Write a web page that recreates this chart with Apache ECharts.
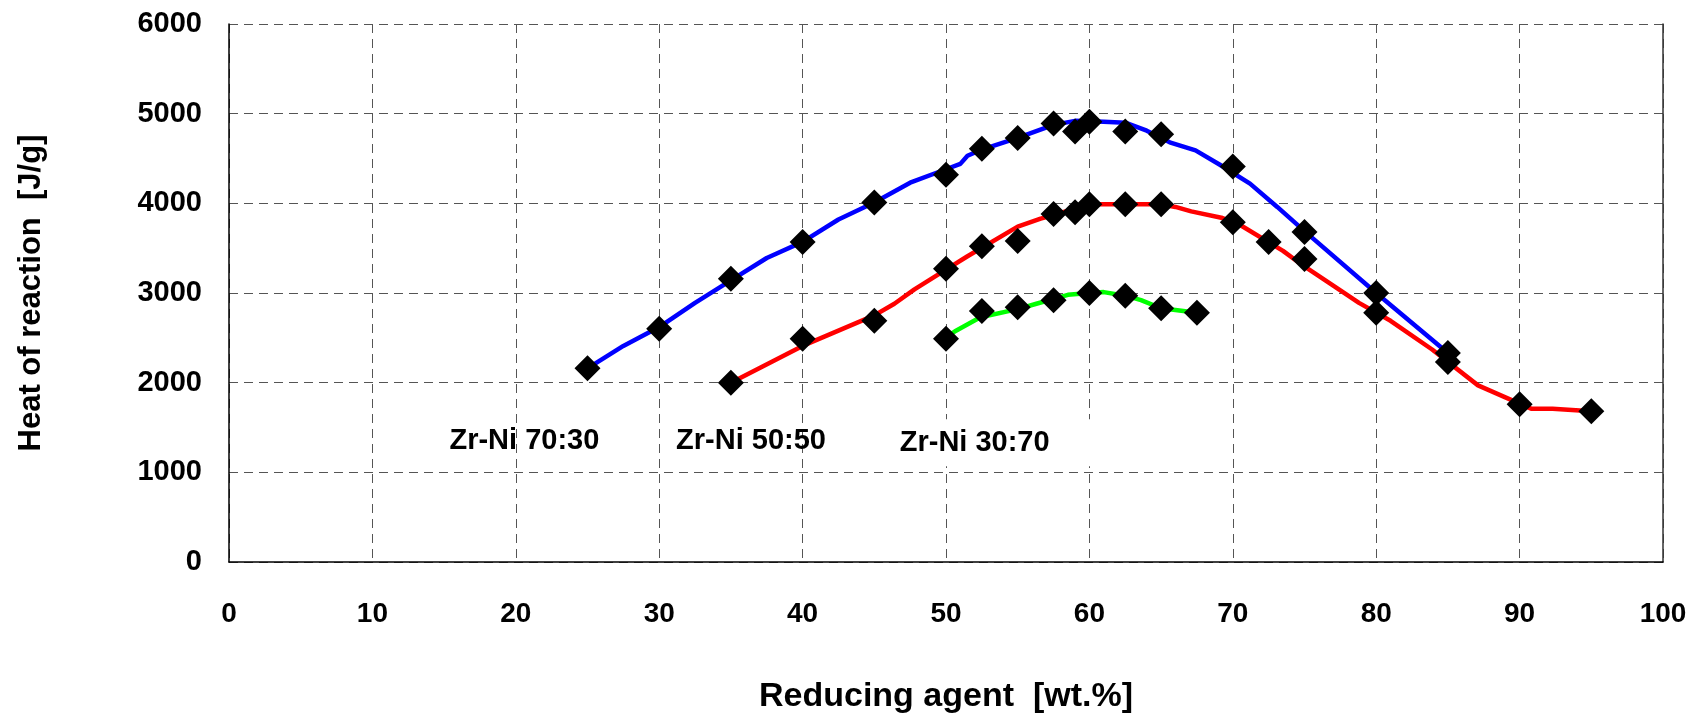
<!DOCTYPE html>
<html>
<head>
<meta charset="utf-8">
<title>Heat of reaction</title>
<script src="https://cdn.jsdelivr.net/npm/echarts@6/dist/echarts.min.js"></script>
<style>
  html, body { margin: 0; padding: 0; background: #fff; }
  #chart { width: 1707px; height: 719px; }
</style>
</head>
<body>
<div id="chart"></div>
<script>
// measured points (black diamonds)
var blueX = [25, 30, 35, 40, 45, 50, 52.5, 55, 57.5, 59, 60, 62.5, 65, 70, 75, 80, 85];
var blueY = [2160, 2600, 3160, 3570, 4010, 4320, 4610, 4730, 4890, 4800, 4910, 4800, 4770, 4410, 3680, 3000, 2330];
var redX = [35, 40, 45, 50, 52.5, 55, 57.5, 59, 60, 62.5, 65, 70, 72.5, 75, 80, 85, 90, 95];
var redY = [2000, 2490, 2690, 3270, 3520, 3580, 3880, 3900, 3990, 3990, 3990, 3790, 3570, 3380, 2780, 2230, 1760, 1680];
var greenX = [50, 52.5, 55, 57.5, 60, 62.5, 65, 67.5];
var greenY = [2490, 2800, 2840, 2920, 3000, 2970, 2830, 2780];

// curves as drawn in the original
var blueLineX = [25, 27.5, 30, 32.5, 35, 37.5, 40, 42.5, 45, 47.5, 50, 51, 51.5, 52.5, 55, 57.5, 59, 61, 62.5, 64, 65.6, 67.4, 69.1, 71.2, 73.1, 75, 80, 85];
var blueLineY = [2160, 2410, 2620, 2890, 3140, 3390, 3570, 3820, 4010, 4230, 4380, 4440, 4530, 4600, 4730, 4875, 4920, 4910, 4900, 4810, 4680, 4590, 4430, 4220, 3960, 3690, 3000, 2330];
var redLineX = [35, 40, 45, 46.4, 47.8, 50, 51.5, 55, 56.6, 57.5, 59, 60, 62.5, 65, 66, 67.1, 69.2, 70.6, 73.5, 74.6, 77.5, 78.8, 81, 83.9, 87.1, 90.8, 92.3, 95];
var redLineY = [2000, 2410, 2750, 2880, 3040, 3260, 3410, 3740, 3830, 3870, 3940, 3990, 3990, 3990, 3960, 3910, 3840, 3750, 3470, 3340, 3030, 2890, 2690, 2370, 1970, 1710, 1710, 1680];
var greenLineX = [50, 50.6, 52.4, 55, 56.3, 58.5, 60, 61, 62.5, 63.6, 65, 66, 67.5];
var greenLineY = [2510, 2570, 2730, 2820, 2880, 2980, 3000, 3010, 2970, 2920, 2830, 2810, 2780];

// series labels inside the plot
var labelText = ['Zr-Ni 70:30', 'Zr-Ni 50:50', 'Zr-Ni 30:70'];
var labelX = [20.6, 36.4, 52.0];
var labelY = [1350, 1350, 1330];

var xTicks = [0, 10, 20, 30, 40, 50, 60, 70, 80, 90, 100];
var yTicks = [0, 1000, 2000, 3000, 4000, 5000, 6000];

function pairs(xs, ys) {
  return xs.map(function (x, i) { return [x, ys[i]]; });
}

var font = "'Liberation Sans', Arial, sans-serif";
var gridLine = { show: true, lineStyle: { color: '#555', width: 1, type: [9, 6] } };

var chart = echarts.init(document.getElementById('chart'));

function lineSeries(xs, ys, color) {
  return {
    type: 'line',
    data: pairs(xs, ys),
    symbol: 'none',
    smooth: false,
    silent: true,
    z: 2,
    lineStyle: { color: color, width: 4.5 }
  };
}

function markSeries(xs, ys) {
  return {
    type: 'scatter',
    data: pairs(xs, ys),
    symbol: 'diamond',
    symbolSize: 26,
    silent: true,
    z: 3,
    itemStyle: { color: '#000', opacity: 1 }
  };
}

var option = {
  backgroundColor: '#fff',
  animation: false,
  grid: { left: 229, right: 44, top: 24, bottom: 153 },
  xAxis: {
    type: 'value',
    min: xTicks[0],
    max: xTicks[xTicks.length - 1],
    interval: 10,
    name: 'Reducing agent  [wt.%]',
    nameLocation: 'middle',
    nameGap: 118,
    nameTextStyle: { fontFamily: font, fontWeight: 'bold', fontSize: 34, color: '#000' },
    axisLine: { show: true, onZero: false, lineStyle: { color: '#000', width: 1.5 } },
    axisTick: { show: false },
    axisLabel: { margin: 38, fontFamily: font, fontWeight: 'bold', fontSize: 28, color: '#000' },
    splitLine: gridLine
  },
  yAxis: [{
    type: 'value',
    min: yTicks[0],
    max: yTicks[yTicks.length - 1],
    interval: 1000,
    name: 'Heat of reaction  [J/g]',
    nameLocation: 'middle',
    nameGap: 182,
    nameTextStyle: { fontFamily: font, fontWeight: 'bold', fontSize: 31, color: '#000' },
    axisLine: { show: true, onZero: false, lineStyle: { color: '#000', width: 1.5 } },
    axisTick: { show: false },
    axisLabel: {
      margin: 27, fontFamily: font, fontWeight: 'bold', fontSize: 29, color: '#000',
      formatter: function (v) { return String(v); }
    },
    splitLine: gridLine
  }, {
    // right frame edge
    type: 'value',
    position: 'right',
    min: yTicks[0],
    max: yTicks[yTicks.length - 1],
    axisLine: { show: true, onZero: false, lineStyle: { color: '#333', width: 1.5 } },
    axisTick: { show: false },
    axisLabel: { show: false },
    splitLine: { show: false }
  }],
  series: [
    lineSeries(blueLineX, blueLineY, '#0000ff'),
    lineSeries(redLineX, redLineY, '#ff0000'),
    lineSeries(greenLineX, greenLineY, '#00ff00'),
    markSeries(blueX, blueY),
    markSeries(redX, redY),
    markSeries(greenX, greenY),
    {
      type: 'scatter',
      silent: true,
      symbolSize: 0,
      z: 4,
      itemStyle: { opacity: 1 },
      data: labelText.map(function (t, i) {
        var lab = {
          show: true,
          position: 'inside',
          formatter: t,
          fontFamily: font,
          fontWeight: 'bold',
          fontSize: 29,
          color: '#000',
          opacity: 1
        };
        if (i === 2) {
          // this one sits on a white box in the original
          lab.backgroundColor = '#fff';
          lab.padding = [9, 52, 9, 12];
          lab.offset = [20, 0];
        }
        return { value: [labelX[i], labelY[i]], label: lab };
      })
    }
  ]
};

chart.setOption(option);
</script>
</body>
</html>
